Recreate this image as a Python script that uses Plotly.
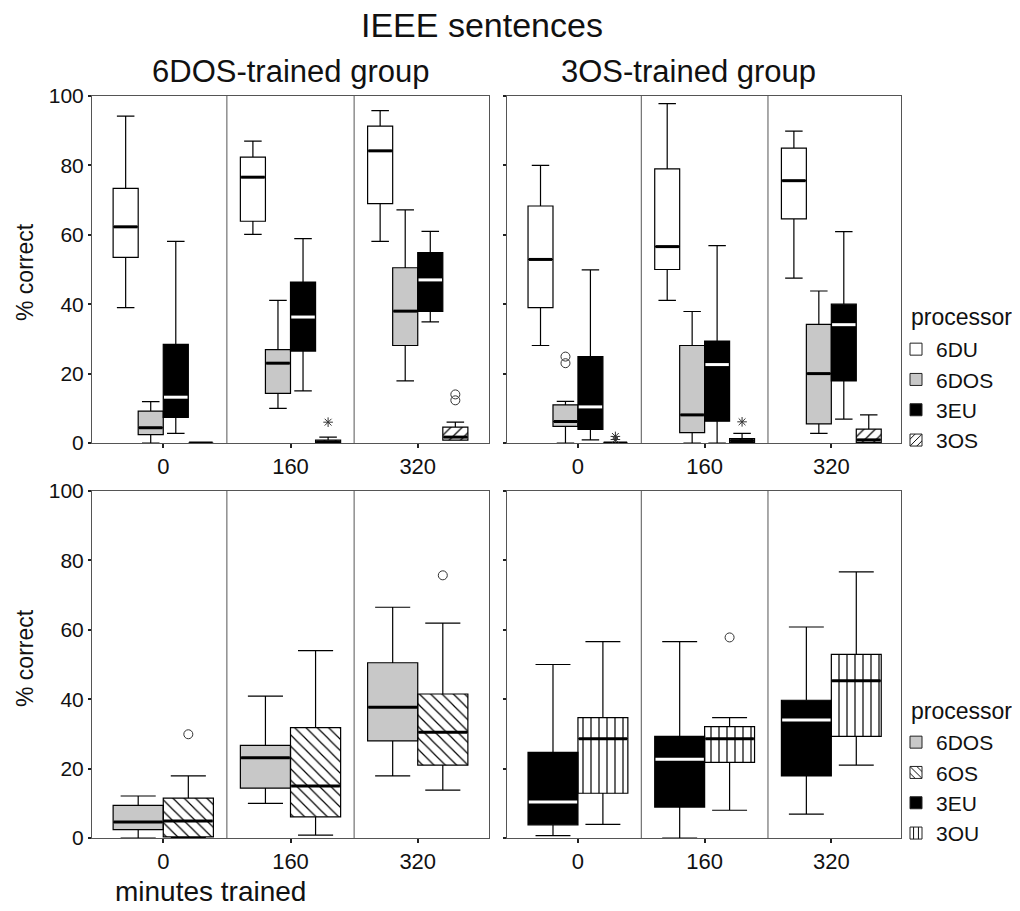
import plotly.graph_objects as go
from plotly.subplots import make_subplots

W, H = 1020, 911
OFF = 8  # page body margin in the browser
FONT = "Liberation Sans, Arial, sans-serif"

minutes = ["0", "160", "320"]

# ---------- data (percent correct), per training time 0 / 160 / 320 ----------
# Top-left: 6DOS-trained group
TL_6DU = dict(lower=[39.0, 60.1, 58.1], q1=[53.5, 63.9, 69.0], median=[62.3, 76.6, 84.2], q3=[73.4, 82.4, 91.3], upper=[94.2, 87.0, 95.8])
TL_6DOS = dict(lower=[0.0, 10.0, 17.9], q1=[2.4, 14.3, 28.1], median=[4.4, 23.0, 38.0], q3=[9.2, 26.9, 50.5], upper=[11.9, 41.1, 67.2])
TL_3EU = dict(lower=[2.8, 15.0, 34.9], q1=[7.4, 26.5, 37.9], median=[13.2, 36.3, 47.0], q3=[28.4, 46.4, 54.9], upper=[58.1, 58.9, 61.0])
TL_3OS = dict(lower=[0.0, 0.0, 0.8], q1=[0.0, 0.0, 0.8], median=[0.0, 0.3, 1.7], q3=[0.0, 0.8, 4.6], upper=[0.0, 1.7, 6.0])
TL_3OS_circles = [[], [], [14.0, 12.3]]
TL_3OS_stars = [[], [6.0], []]

# Top-right: 3OS-trained group
TR_6DU = dict(lower=[28.1, 41.1, 47.5], q1=[39.0, 50.0, 64.6], median=[52.9, 56.6, 75.6], q3=[68.3, 79.0, 85.0], upper=[80.0, 97.8, 89.9])
TR_6DOS = dict(lower=[0.0, 0.0, 2.8], q1=[4.8, 3.0, 5.5], median=[6.2, 8.1, 20.0], q3=[11.0, 28.1, 34.2], upper=[12.0, 37.9, 43.8])
TR_6DOS_circles = [[24.9, 23.0], [], []]
TR_3EU = dict(lower=[0.9, 0.0, 6.9], q1=[3.9, 6.3, 17.9], median=[10.4, 22.6, 34.1], q3=[24.9, 29.4, 40.0], upper=[49.9, 56.9, 60.9])
TR_3OS = dict(lower=[0.0, 0.0, 0.0], q1=[0.0, 0.2, 0.2], median=[0.0, 0.7, 0.9], q3=[0.0, 1.3, 4.0], upper=[0.0, 2.8, 8.1])
TR_3OS_stars = [[1.9, 1.0], [6.1], []]

# Bottom-left: 6DOS-trained group
BL_6DOS = dict(lower=[0.0, 10.0, 17.9], q1=[2.4, 14.4, 28.0], median=[4.6, 23.1, 37.7], q3=[9.4, 26.7, 50.5], upper=[12.1, 40.9, 66.5])
BL_6OS = dict(lower=[0.0, 0.8, 13.8], q1=[0.3, 6.1, 21.0], median=[4.9, 15.0, 30.5], q3=[11.5, 31.8, 41.5], upper=[17.9, 54.0, 61.9])
BL_6OS_circles = [[29.9], [], [75.7]]

# Bottom-right: 3OS-trained group
BR_3EU = dict(lower=[0.7, 0.0, 6.9], q1=[3.8, 8.9, 17.9], median=[10.4, 22.7, 34.0], q3=[24.7, 29.3, 39.7], upper=[50.0, 56.6, 60.8])
BR_3OU = dict(lower=[3.9, 8.0, 21.0], q1=[12.9, 21.8, 29.3], median=[28.6, 28.6, 45.3], q3=[34.7, 32.1, 52.9], upper=[56.6, 34.7, 76.7])
BR_3OU_circles = [[], [57.8], []]

GRAY = "#c8c8c8"
STYLE = {
    "6DU": dict(fill="white", pattern=None, med="black"),
    "6DOS": dict(fill=GRAY, pattern=None, med="black"),
    "3EU": dict(fill="black", pattern=None, med="white"),
    "3OS": dict(fill="white", pattern="/", med="black"),
    "6OS": dict(fill="white", pattern="\\", med="black"),
    "3OU": dict(fill="white", pattern="|", med="black"),
}

fig = make_subplots(rows=2, cols=2)


def add_series(row, col, name, st, offset, width, circles=None, stars=None):
    sty = STYLE[name]
    xs = [i + offset for i in range(len(minutes))]
    if sty["pattern"]:
        fig.add_trace(go.Bar(
            x=xs, y=[b - a for a, b in zip(st["q1"], st["q3"])], base=st["q1"], width=width,
            marker=dict(color="white", line=dict(width=0),
                        pattern=dict(shape=sty["pattern"], fgcolor="black", bgcolor="white",
                                     size=8, solidity=0.15, fillmode="replace")),
            showlegend=False, hoverinfo="skip"), row=row, col=col)
    fig.add_trace(go.Box(
        x=xs, q1=st["q1"], median=st["median"], q3=st["q3"],
        lowerfence=st["lower"], upperfence=st["upper"], width=width,
        fillcolor="rgba(0,0,0,0)" if sty["pattern"] else sty["fill"],
        line=dict(color="black", width=1.2), whiskerwidth=0.7,
        showlegend=False, hoverinfo="skip", boxpoints=False), row=row, col=col)
    mx, my = [], []
    inset = 0.006
    for x, m in zip(xs, st["median"]):
        mx += [x - width / 2 + inset, x + width / 2 - inset, None]
        my += [m, m, None]
    fig.add_trace(go.Scatter(x=mx, y=my, mode="lines", line=dict(color=sty["med"], width=3),
                             showlegend=False, hoverinfo="skip"), row=row, col=col)
    for pts, sym, size in ((circles, "circle-open", 9), (stars, "asterisk-open", 8)):
        if not pts:
            continue
        ox, oy = [], []
        for x, vals in zip(xs, pts):
            for v in vals:
                ox.append(x)
                oy.append(v)
        fig.add_trace(go.Scatter(x=ox, y=oy, mode="markers",
                                 marker=dict(symbol=sym, size=size, color="#333",
                                             line=dict(width=1, color="#333")),
                                 showlegend=False, hoverinfo="skip"), row=row, col=col)


w4, w2 = 0.197, 0.394
for col, series in ((1, [("6DU", TL_6DU, None, None), ("6DOS", TL_6DOS, None, None),
                         ("3EU", TL_3EU, None, None), ("3OS", TL_3OS, TL_3OS_circles, TL_3OS_stars)]),
                    (2, [("6DU", TR_6DU, None, None), ("6DOS", TR_6DOS, TR_6DOS_circles, None),
                         ("3EU", TR_3EU, None, None), ("3OS", TR_3OS, None, TR_3OS_stars)])):
    for k, (nm, st, circ, star) in enumerate(series):
        add_series(1, col, nm, st, (k - 1.5) * w4, w4, circ, star)

for col, series in ((1, [("6DOS", BL_6DOS, None), ("6OS", BL_6OS, BL_6OS_circles)]),
                    (2, [("3EU", BR_3EU, None), ("3OU", BR_3OU, BR_3OU_circles)])):
    for k, (nm, st, circ) in enumerate(series):
        add_series(2, col, nm, st, (k - 0.5) * w2, w2, circ, None)

# legend-only entries
for leg, names in (("legend", ["6DU", "6DOS", "3EU", "3OS"]), ("legend2", ["6DOS", "6OS", "3EU", "3OU"])):
    for nm in names:
        sty = STYLE[nm]
        marker = dict(color=sty["fill"], line=dict(color="#222", width=1))
        if sty["pattern"]:
            marker["pattern"] = dict(shape=sty["pattern"], fgcolor="black", bgcolor="white",
                                     size=6, solidity=0.2, fillmode="replace")
        fig.add_trace(go.Bar(x=[None], y=[None], name=nm, marker=marker, legend=leg,
                             showlegend=True), row=1, col=1)


# ---------- layout ----------
def px_x(p):
    return (p - OFF) / W


def px_y(p):
    return 1 - (p - OFF) / H


doms_x = {1: [px_x(92), px_x(489)], 2: [px_x(507), px_x(901)]}
doms_y = {1: [px_y(443), px_y(96)], 2: [px_y(838), px_y(491)]}
ranges_x = {1: [-0.56, 2.56], 2: [-0.56, 2.55]}

for r in (1, 2):
    for c in (1, 2):
        fig.update_xaxes(domain=doms_x[c], range=ranges_x[c], tickvals=[0, 1, 2], ticktext=minutes,
                         showline=True, mirror=True, linecolor="#555", linewidth=1,
                         ticks="outside", ticklen=4, tickwidth=2, tickcolor="#222",
                         tickfont=dict(size=22, color="#111", family=FONT), automargin=False,
                         showgrid=False, zeroline=False, fixedrange=True, row=r, col=c)
        fig.update_yaxes(domain=doms_y[r], range=[0, 100], tickvals=[0, 20, 40, 60, 80, 100],
                         showticklabels=(c == 1), automargin=False,
                         showline=True, mirror=True, linecolor="#555", linewidth=1,
                         ticks="outside", ticklen=3, tickwidth=2, tickcolor="#222",
                         tickfont=dict(size=21, color="#111", family=FONT),
                         showgrid=False, zeroline=False, fixedrange=True, row=r, col=c)
        for v in (0.5, 1.5):
            fig.add_vline(x=v, line=dict(color="#555", width=1), row=r, col=c)

ann = [
    dict(text="IEEE sentences", x=px_x(482), y=px_y(25), font=dict(size=34)),
    dict(text="6DOS-trained group", x=px_x(290), y=px_y(72), font=dict(size=31)),
    dict(text="3OS-trained group", x=px_x(688), y=px_y(72), font=dict(size=31)),
    dict(text="% correct", x=px_x(25), y=px_y(272), font=dict(size=23), textangle=-90),
    dict(text="% correct", x=px_x(25), y=px_y(658), font=dict(size=23), textangle=-90),
    dict(text="minutes trained", x=px_x(210), y=px_y(891), font=dict(size=28)),
    dict(text="processor", x=px_x(909), y=px_y(317), font=dict(size=23), xanchor="left"),
    dict(text="processor", x=px_x(909), y=px_y(711), font=dict(size=23), xanchor="left"),
]
for a in ann:
    a.setdefault("xanchor", "center")
    a.update(xref="paper", yref="paper", yanchor="middle", showarrow=False)
    a["font"].update(family=FONT, color="#111")

legend_common = dict(xanchor="left", yanchor="top", bgcolor="rgba(0,0,0,0)",
                     font=dict(size=21, family=FONT, color="#111"), itemclick=False,
                     itemdoubleclick=False, tracegroupgap=0, borderwidth=0)

fig.update_layout(
    width=W, height=H,
    margin=dict(l=0, r=0, t=0, b=0, autoexpand=False),
    paper_bgcolor="white", plot_bgcolor="white",
    barmode="overlay", boxmode="overlay",
    annotations=ann,
    legend=dict(x=px_x(896), y=px_y(329), **legend_common),
    legend2=dict(x=px_x(896), y=px_y(722), **legend_common),
    font=dict(family=FONT, color="#111"),
)

fig.write_html("out.html")
